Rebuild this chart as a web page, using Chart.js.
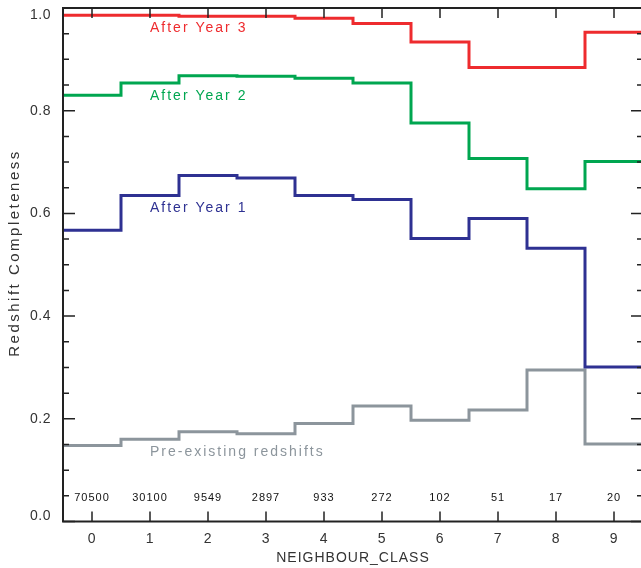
<!DOCTYPE html>
<html>
<head>
<meta charset="utf-8">
<script src="https://cdn.jsdelivr.net/npm/chart.js@4.4.1/dist/chart.umd.min.js"></script>
<style>
  html, body { margin:0; padding:0; background:#fff; overflow:hidden; }
  #box { width:644px; height:568px; }
</style>
</head>
<body>
<div id="box"><canvas id="chart"></canvas></div>
<script>
const classes = [0, 1, 2, 3, 4, 5, 6, 7, 8, 9]
const counts = ["70500", "30100", "9549", "2897", "933", "272", "102", "51", "17", "20"]
const year3 = [0.986, 0.986, 0.984, 0.984, 0.980, 0.970, 0.934, 0.884, 0.884, 0.953]
const year2 = [0.830, 0.854, 0.868, 0.867, 0.863, 0.854, 0.776, 0.707, 0.648, 0.701]
const year1 = [0.567, 0.635, 0.674, 0.669, 0.635, 0.627, 0.551, 0.590, 0.532, 0.301]
const preexisting = [0.148, 0.160, 0.175, 0.171, 0.191, 0.225, 0.197, 0.217, 0.295, 0.151]
const yTicks = [0, 0.2, 0.4, 0.6, 0.8, 1.0]

// series labels: [text, x value, y value, colour]
const seriesLabels = [
  ["After Year 3", 1, 0.961, "#ee2b2e"],
  ["After Year 2", 1, 0.828, "#00a650"],
  ["After Year 1", 1, 0.610, "#2e3192"],
  ["Pre-existing redshifts", 1, 0.136, "#8c959c"],
]

const FONT = "'Liberation Sans', Arial, sans-serif"

/** Histogram-style steps: one flat segment per class. */
const steps = (values) => {
  const points = classes.map((c, i) => ({x:c - 0.5, y:values[i]}))
  points.push({x:classes[classes.length - 1] + 0.5, y:values[values.length - 1]})
  return points
}

const line = (label, values, color) => ({
  label, data:steps(values), borderColor:color, borderWidth:3,
  stepped:"before", pointRadius:0, fill:false,
})

const frame = {
  id:"frame",
  afterDraw(chart) {
    const {ctx, chartArea:{left, right, top, bottom}, scales:{x, y}} = chart
    ctx.save()
    ctx.strokeStyle = "#222"
    ctx.lineWidth = 2
    ctx.strokeRect(left, top, right - left, bottom - top)
    ctx.lineWidth = 1.5
    ctx.beginPath()
    for (let k = 0; k <= 20; k++) {
      const py = y.getPixelForValue(k * 0.05)
      const len = k % 4 === 0 ? 12 : 6
      ctx.moveTo(left, py); ctx.lineTo(left + len, py)
      ctx.moveTo(right, py); ctx.lineTo(right - len, py)
    }
    for (const c of classes) {
      const px = x.getPixelForValue(c)
      ctx.moveTo(px, bottom); ctx.lineTo(px, bottom - 10)
      ctx.moveTo(px, top); ctx.lineTo(px, top + 10)
    }
    ctx.stroke()

    // axis tick labels
    ctx.textBaseline = "middle"
    ctx.fillStyle = "#333"
    ctx.font = `14px ${FONT}`
    ctx.letterSpacing = "0.5px"
    ctx.textAlign = "right"
    for (const v of yTicks) {
      const py = Math.min(Math.max(y.getPixelForValue(v), top + 7), bottom - 5)
      ctx.fillText(v.toFixed(1), 51, py)
    }
    ctx.textAlign = "center"
    for (const c of classes) ctx.fillText(String(c), x.getPixelForValue(c), bottom + 18)

    // axis titles
    ctx.letterSpacing = "1px"
    ctx.fillText("NEIGHBOUR_CLASS", (left + right) / 2, 558)
    ctx.save()
    ctx.translate(15, 253)
    ctx.rotate(-Math.PI / 2)
    ctx.font = `15px ${FONT}`
    ctx.letterSpacing = "2.5px"
    ctx.fillText("Redshift Completeness", 0, 0)
    ctx.restore()

    // series labels
    ctx.font = `14px ${FONT}`
    ctx.letterSpacing = "2px"
    ctx.textAlign = "left"
    for (const [text, vx, vy, color] of seriesLabels) {
      ctx.fillStyle = color
      ctx.fillText(text, x.getPixelForValue(vx), y.getPixelForValue(vy))
    }

    // object counts per class
    ctx.fillStyle = "#111"
    ctx.textAlign = "center"
    ctx.letterSpacing = "1px"
    ctx.font = `11px ${FONT}`
    classes.forEach((c, i) => ctx.fillText(counts[i], x.getPixelForValue(c), y.getPixelForValue(0.046)))
    ctx.restore()
  }
}

new Chart(document.getElementById("chart"), {
  type:"line",
  data:{datasets:[
    line("After Year 3", year3, "#ee2b2e"),
    line("After Year 2", year2, "#00a650"),
    line("After Year 1", year1, "#2e3192"),
    line("Pre-existing redshifts", preexisting, "#8c959c"),
  ]},
  options:{
    responsive:true,
    maintainAspectRatio:false,
    animation:false,
    layout:{padding:{top:8, right:1}},
    plugins:{legend:{display:false}, tooltip:{enabled:false}},
    scales:{
      x:{
        type:"linear", min:-0.5, max:9.5,
        grid:{display:false}, border:{display:false},
        ticks:{display:false},
        afterFit(scale) { scale.height = 46.5 },
      },
      y:{
        min:0, max:1,
        grid:{display:false}, border:{display:false},
        ticks:{display:false},
        afterFit(scale) { scale.width = 63 },
      },
    },
  },
  plugins:[frame],
})
</script>
</body>
</html>
